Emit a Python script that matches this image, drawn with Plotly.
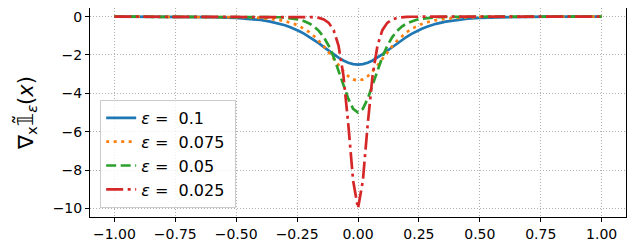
import plotly.graph_objects as go

# shared x grid (denser near the dip)
x_vals = [-1.0, -0.9, -0.8, -0.7, -0.6, -0.5, -0.45, -0.4, -0.36, -0.32,
          -0.30, -0.28, -0.26, -0.24, -0.22, -0.20, -0.18, -0.16, -0.14, -0.12,
          -0.10, -0.08, -0.06, -0.04, -0.02, 0.0,
          0.02, 0.04, 0.06, 0.08, 0.10, 0.12, 0.14, 0.16, 0.18, 0.20,
          0.22, 0.24, 0.26, 0.28, 0.30, 0.32, 0.36, 0.4, 0.45, 0.5,
          0.6, 0.7, 0.8, 0.9, 1.0]

# half curves, from x = 0 outward to x = 1 (mirrored below)
half_01 = [-2.5, -2.475, -2.403, -2.288, -2.139, -1.966, -1.779, -1.587, -1.398, -1.217, -1.050,
           -0.898, -0.763, -0.644, -0.540, -0.452, -0.376, -0.259, -0.177, -0.109, -0.066,
           -0.025, -0.009, -0.003, -0.001, -0.0005]
half_0075 = [-3.333, -3.275, -3.107, -2.852, -2.540, -2.201, -1.864, -1.547, -1.263, -1.017, -0.809,
             -0.640, -0.502, -0.391, -0.304, -0.235, -0.182, -0.108, -0.064, -0.033, -0.017,
             -0.0045, -0.0012, 0.0, 0.0, 0.0]
half_005 = [-5.0, -4.806, -4.278, -3.558, -2.796, -2.100, -1.526, -1.080, -0.753, -0.518, -0.353,
            -0.240, -0.162, -0.110, -0.074, -0.049, -0.033, -0.015, -0.0067, -0.0025, -0.0009,
            0.0, 0.0, 0.0, 0.0, 0.0]
half_0025 = [-10.0, -8.556, -5.592, -3.052, -1.505, -0.706, -0.324, -0.148, -0.066, -0.030, -0.013,
             -0.006, -0.0027, -0.0012, -0.0005, -0.0002, 0.0, 0.0, 0.0, 0.0, 0.0,
             0.0, 0.0, 0.0, 0.0, 0.0]

labels = ["0.1", "0.075", "0.05", "0.025"]
colors = ["#1f77b4", "#ff7f0e", "#2ca02c", "#d62728"]
dashes = ["solid", "3px,4.5px", "10px,4.5px", "17px,4.5px,3px,4.5px"]


def full(half):
    return half[:0:-1] + half


series = [full(h) for h in (half_01, half_0075, half_005, half_0025)]

fig = go.Figure()
for i, (lab, y, c, d) in enumerate(zip(labels, series, colors, dashes)):
    fig.add_trace(go.Scatter(x=x_vals, y=y, mode="lines", name="<i>ε</i> =  " + lab + "\u00a0",
                             legendgroup=str(i),
                             line=dict(color=c, width=2.7, dash=d)))

ax = dict(showline=True, mirror=True, linecolor="black", linewidth=1,
          ticks="outside", ticklen=4, tickcolor="black", automargin=False,
          tickfont=dict(size=14),
          showgrid=True, gridcolor="#b0b0b0", gridwidth=0.8, griddash="1px,2px",
          zeroline=False)

# page body adds an 8px offset, so the figure is 632x244
fig.update_layout(
    width=632, height=244,
    margin=dict(l=82, r=14, t=0, b=35),
    paper_bgcolor="white", plot_bgcolor="white",
    font=dict(family="DejaVu Sans", color="black", size=13),
    xaxis=dict(range=[-1.1, 1.1], tickvals=[-1, -0.75, -0.5, -0.25, 0, 0.25, 0.5, 0.75, 1],
               tickformat=".2f", **ax),
    yaxis=dict(range=[-10.45, 0.45], tickvals=[0, -2, -4, -6, -8, -10],
               title=dict(text="∇<sub>x</sub>𝟙̃<sub><i>ε</i></sub>(<i>x</i>)", font=dict(size=21), standoff=13),
               **ax),
    legend=dict(x=0.019, y=0.043, xanchor="left", yanchor="bottom",
                bgcolor="rgba(255,255,255,0.8)", bordercolor="#cccccc", borderwidth=1,
                font=dict(size=16), tracegroupgap=0),
    showlegend=True,
)
fig.write_html("out.html")
